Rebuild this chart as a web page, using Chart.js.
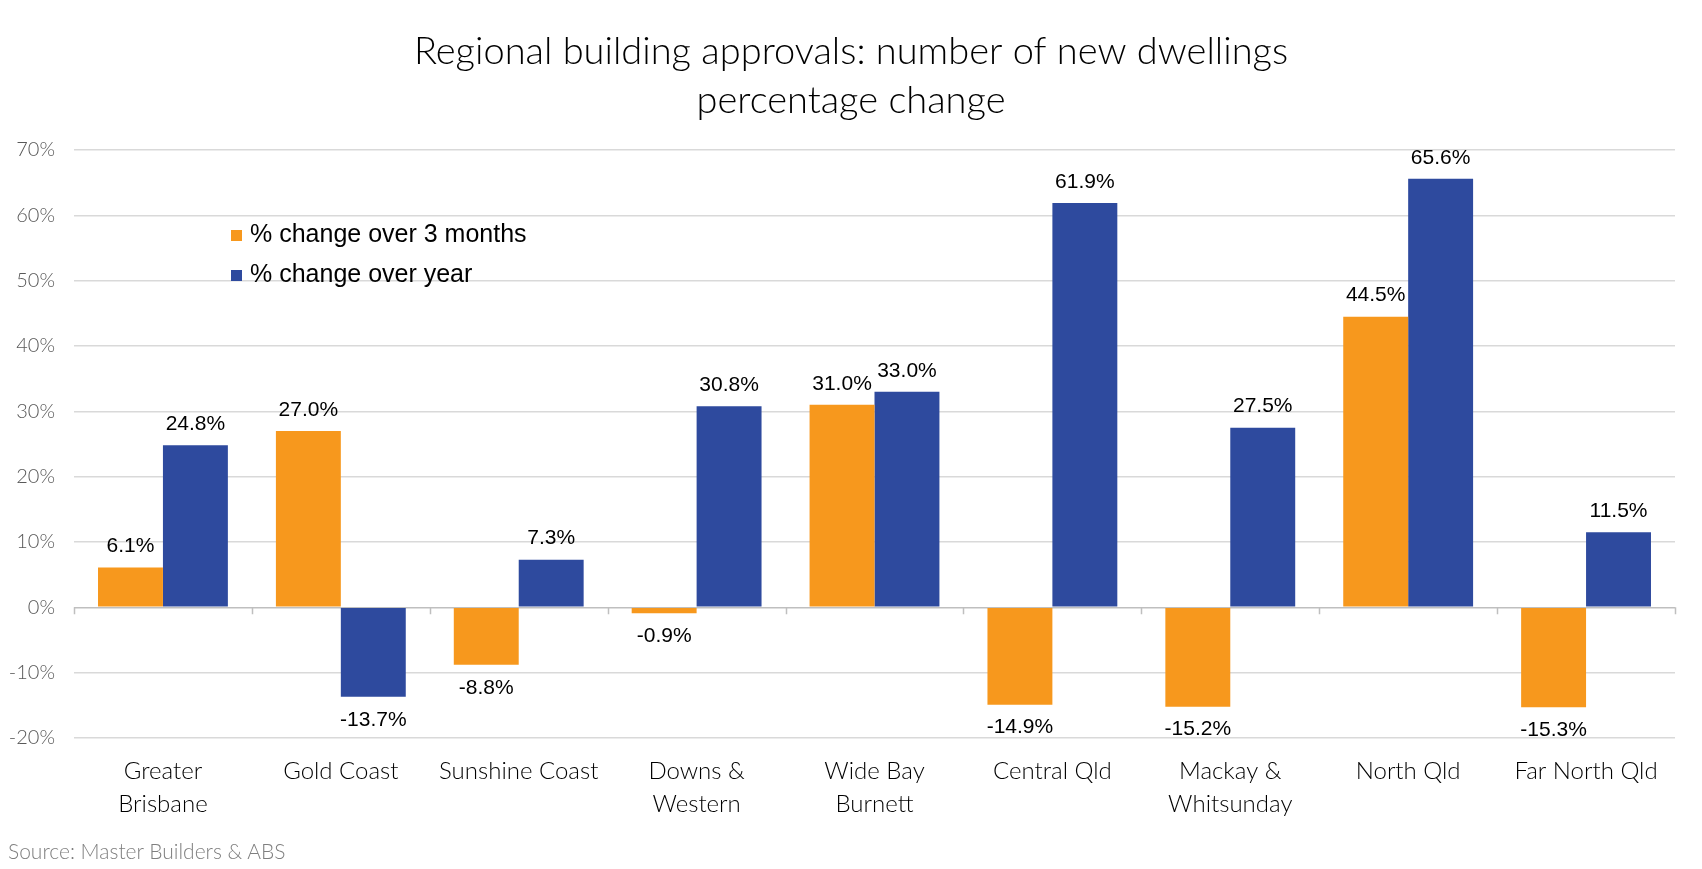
<!DOCTYPE html>
<html>
<head>
<meta charset="utf-8">
<script src="https://cdn.jsdelivr.net/npm/chart.js@4.4.0/dist/chart.umd.min.js"></script>
<style>
  body { margin: 0; background: #fff; }
  #wrap { position: relative; width: 1702px; height: 869px; }
  #grafica { position: absolute; left: 0; top: 0; }
  .leyenda { position: absolute; left: 231px; font: 25px "Liberation Sans", Arial, sans-serif; color: #000; white-space: nowrap; }
  .leyenda span { display: inline-block; width: 11px; height: 11px; margin-right: 8px; vertical-align: 1px; }
  #fuente { position: absolute; left: 8px; top: 838px; font: 300 21px Lato, sans-serif; color: #7f7f7f; }
</style>
</head>
<body>
<div id="wrap">
  <canvas id="grafica" width="1702" height="869"></canvas>
  <div class="leyenda" style="top:219px"><span style="background:#F7981D"></span>% change over 3 months</div>
  <div class="leyenda" style="top:259px"><span style="background:#2E4A9E"></span>% change over year</div>
  <div id="fuente">Source: Master Builders &amp; ABS</div>
</div>
<script>
const $grafica = document.querySelector("#grafica");

const regiones = [
    ['Greater', 'Brisbane'], 'Gold Coast', 'Sunshine Coast', ['Downs &', 'Western'],
    ['Wide Bay', 'Burnett'], 'Central Qld', ['Mackay &', 'Whitsunday'], 'North Qld', 'Far North Qld'
];
const cambio3Meses = [6.1, 27.0, -8.8, -0.9, 31.0, -14.9, -15.2, 44.5, -15.3];
const cambioAnual = [24.8, -13.7, 7.3, 30.8, 33.0, 61.9, 27.5, 65.6, 11.5];
const titulo = ['Regional building approvals: number of new dwellings', 'percentage change'];

// etiquetas de valor encima / debajo de cada barra
const etiquetasValor = {
    id: 'etiquetasValor',
    afterDatasetsDraw(chart) {
        const ctx = chart.ctx;
        ctx.save();
        ctx.font = '21px "Liberation Sans", Arial, sans-serif';
        ctx.fillStyle = '#000';
        ctx.textAlign = 'center';
        ctx.textBaseline = 'middle';
        chart.data.datasets.forEach((ds, i) => {
            chart.getDatasetMeta(i).data.forEach((barra, j) => {
                const v = ds.data[j];
                const y = v >= 0 ? barra.y - 21 : barra.y + 23;
                ctx.fillText(v.toFixed(1) + '%', barra.x, y);
            });
        });
        ctx.restore();
    }
};

// marcas del eje x sobre la linea del 0%
const marcasEje = {
    id: 'marcasEje',
    afterDatasetsDraw(chart) {
        const ctx = chart.ctx;
        const x = chart.scales.x, y0 = chart.scales.y.getPixelForValue(0);
        ctx.save();
        ctx.strokeStyle = '#BFBFBF';
        ctx.lineWidth = 1.5;
        ctx.beginPath();
        for (let i = 0; i <= regiones.length; i++) {
            const px = Math.round(x.getPixelForValue(i - 0.5)) + 0.5;
            ctx.moveTo(px, y0);
            ctx.lineTo(px, y0 + 7);
        }
        ctx.stroke();
        ctx.restore();
    }
};

new Chart($grafica, {
    type: 'bar',
    data: {
        labels: regiones,
        datasets: [
            { label: '% change over 3 months', data: cambio3Meses, backgroundColor: '#F7981D' },
            { label: '% change over year', data: cambioAnual, backgroundColor: '#2E4A9E' }
        ]
    },
    options: {
        responsive: false,
        animation: false,
        datasets: { bar: { categoryPercentage: 0.73, barPercentage: 1.0 } },
        layout: { padding: 0 },
        plugins: {
            legend: { display: false },
            tooltip: { enabled: false },
            title: {
                display: true,
                text: titulo,
                color: '#000',
                font: { family: 'Lato', size: 38, weight: 300, lineHeight: 1.29 },
                padding: { top: 27, bottom: 25 }
            }
        },
        scales: {
            x: {
                grid: { display: false, drawTicks: false },
                border: { display: false },
                afterFit: s => { s.height = 131; },
                ticks: {
                    color: '#000',
                    font: { family: 'Lato', size: 24, weight: 300, lineHeight: 1.375 },
                    padding: 17,
                    maxRotation: 0,
                    autoSkip: false
                }
            },
            y: {
                min: -20,
                max: 70,
                afterFit: s => { s.width = 74; },
                border: { display: false },
                grid: {
                    drawTicks: false,
                    lineWidth: 1.5,
                    color: c => c.tick && c.tick.value === 0 ? '#BFBFBF' : '#D9D9D9'
                },
                ticks: {
                    stepSize: 10,
                    padding: 19,
                    color: '#595959',
                    font: { family: 'Lato', size: 20, weight: 300 },
                    callback: v => v + '%'
                }
            },
            // eje vacio a la derecha: solo deja el margen derecho
            margenDer: {
                position: 'right',
                grid: { display: false, drawTicks: false },
                border: { display: false },
                ticks: { display: false },
                afterFit: s => { s.width = 27; }
            }
        }
    },
    plugins: [etiquetasValor, marcasEje]
});
</script>
</body>
</html>
